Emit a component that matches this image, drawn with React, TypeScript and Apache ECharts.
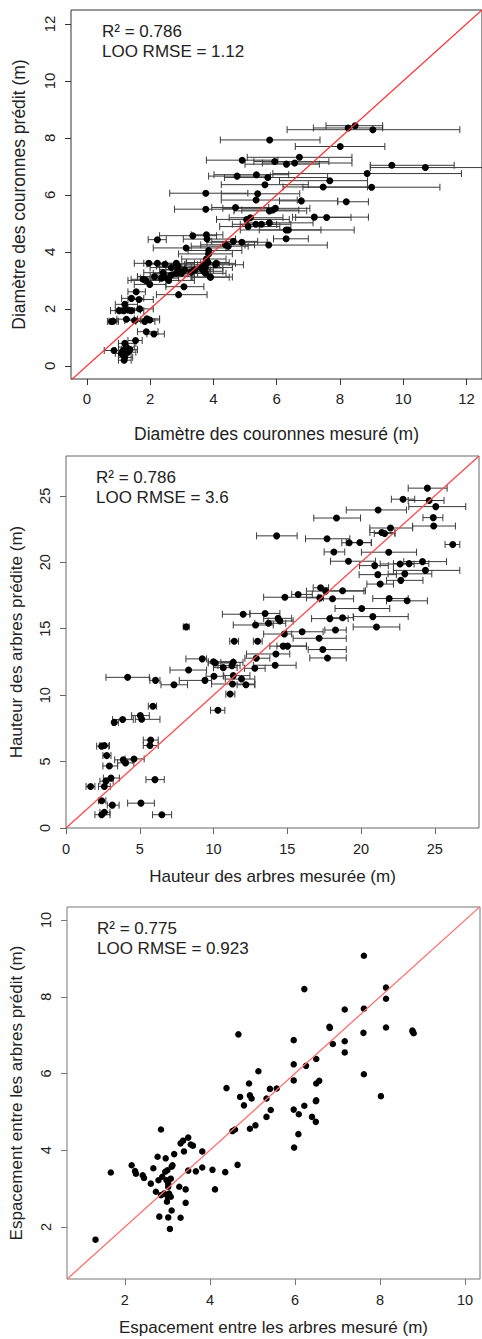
import React, { useEffect, useRef } from "react";
import * as echarts from "echarts";

// Panel 1: crown diameter [measured, predicted, lowMeasured, highMeasured]
const crownPoints: number[][] = [
  [8.48, 8.43, 7.56, 9.35], [8.26, 8.35, 7.16, 9.35], [9.04, 8.29, 6.33, 11.79], [5.78, 7.93, 4.22, 7.37],
  [8.01, 7.7, 6.59, 9.42], [6.72, 7.32, 5.07, 8.38], [4.91, 7.22, 3.78, 6.04], [5.94, 7.17, 5.28, 7.65],
  [6.31, 7.08, 5.0, 7.35], [6.57, 7.12, 5.55, 8.38], [9.64, 7.04, 8.96, 11.61], [10.7, 6.96, 8.96, 12.6],
  [4.75, 6.66, 3.85, 5.8], [5.36, 6.71, 4.02, 6.38], [5.72, 6.61, 4.35, 7.61], [8.86, 6.75, 5.88, 11.84],
  [7.68, 6.5, 6.09, 8.87], [5.63, 6.36, 4.25, 7.0], [7.47, 6.28, 6.2, 8.87], [9.0, 6.27, 6.83, 11.16],
  [3.76, 6.06, 2.62, 5.09], [5.4, 6.04, 4.25, 6.73], [5.35, 5.82, 4.25, 6.65], [6.78, 5.79, 6.09, 7.93],
  [8.2, 5.76, 7.93, 8.9], [3.76, 5.5, 2.77, 4.67], [4.7, 5.56, 3.95, 5.75], [5.77, 5.44, 4.65, 6.95],
  [5.88, 5.47, 4.9, 6.7], [5.96, 5.53, 4.3, 7.05], [7.19, 5.22, 6.5, 8.9], [7.58, 5.21, 6.6, 8.35],
  [5.05, 5.14, 4.1, 6.4], [5.17, 5.2, 4.5, 6.2], [5.1, 4.89, 4.2, 6.1], [5.34, 4.97, 4.6, 6.45],
  [5.52, 4.97, 4.85, 6.0], [5.77, 5.02, 5.0, 7.15], [6.3, 4.77, 4.85, 8.45], [6.37, 4.77, 5.45, 7.4],
  [6.3, 4.46, 5.9, 7.0], [5.75, 4.24, 5.0, 7.6], [3.35, 4.57, 2.3, 4.1], [3.78, 4.6, 3.3, 4.3],
  [3.8, 4.45, 3.05, 4.7], [4.9, 4.34, 3.8, 5.7], [4.63, 4.37, 3.95, 5.4], [4.47, 4.2, 3.3, 5.1],
  [4.38, 4.25, 3.6, 5.3], [2.23, 4.43, 1.94, 2.51], [3.14, 4.14, 2.1, 4.4], [3.85, 4.05, 3.2, 4.9],
  [3.85, 3.93, 2.9, 4.6], [4.09, 3.6, 3.6, 4.7], [3.78, 3.75, 3.0, 4.4], [3.83, 3.63, 3.15, 4.5],
  [3.75, 3.45, 3.0, 4.6], [3.7, 3.55, 3.1, 4.2], [3.9, 3.12, 3.35, 4.6], [4.07, 3.55, 3.5, 4.95],
  [3.7, 3.32, 2.9, 4.3], [2.83, 3.6, 2.2, 3.4], [2.23, 3.6, 1.8, 2.8], [2.47, 3.57, 1.9, 3.1],
  [1.96, 3.6, 1.5, 2.5], [2.67, 3.45, 2.0, 3.3], [2.88, 3.38, 2.3, 3.6], [2.88, 3.5, 2.2, 3.7],
  [2.99, 3.25, 2.4, 3.8], [2.83, 3.25, 2.1, 3.5], [3.09, 3.37, 2.5, 3.9], [2.41, 3.27, 1.8, 3.0],
  [2.46, 3.13, 1.6, 3.3], [2.67, 3.19, 2.0, 3.4], [2.36, 3.08, 1.7, 2.9], [2.59, 3.0, 1.9, 3.4],
  [1.78, 3.04, 1.4, 2.3], [1.86, 3.0, 1.3, 2.6], [1.99, 2.86, 1.5, 2.5], [2.14, 3.13, 1.6, 2.9],
  [3.3, 3.3, 2.7, 3.9], [3.41, 3.37, 2.8, 4.0], [3.62, 3.44, 3.1, 4.3], [3.75, 3.25, 3.2, 4.4],
  [3.91, 3.11, 3.3, 4.5], [2.9, 2.5, 2.2, 3.8], [3.07, 2.78, 2.5, 3.7], [1.56, 2.6, 1.3, 1.85],
  [1.41, 2.37, 1.1, 1.8], [1.65, 2.33, 1.3, 2.1], [1.2, 2.16, 0.9, 1.6], [1.3, 1.96, 1.0, 1.7],
  [1.17, 1.94, 0.9, 1.5], [1.02, 1.94, 0.75, 1.35], [1.41, 1.94, 1.1, 1.8], [1.67, 2.0, 1.3, 2.1],
  [0.78, 1.56, 0.65, 0.95], [0.83, 1.57, 0.7, 1.0], [1.25, 1.64, 0.95, 1.6], [1.51, 1.59, 1.2, 1.85],
  [1.9, 1.65, 1.5, 2.3], [1.99, 1.61, 1.7, 2.3], [1.83, 1.56, 1.55, 2.15], [1.88, 1.2, 1.6, 2.25],
  [2.12, 1.12, 1.9, 2.45], [1.54, 0.89, 1.3, 1.75], [0.86, 0.54, 0.55, 1.3], [1.2, 0.79, 1.0, 1.55],
  [1.25, 0.66, 1.0, 1.5], [1.15, 0.54, 0.9, 1.4], [1.3, 0.48, 1.05, 1.55], [1.2, 0.3, 1.0, 1.45],
  [1.18, 0.2, 1.0, 1.4], [1.09, 0.44, 0.9, 1.4], [1.36, 0.57, 1.1, 1.6],
];

// Panel 2: tree height [measured, predicted, lowMeasured, highMeasured]
const heightPoints: number[][] = [
  [24.5, 25.58, 23.2, 25.84], [22.85, 24.75, 22.06, 23.64], [24.62, 24.65, 23.2, 25.63], [25.07, 24.19, 23.24, 27.1],
  [21.16, 23.94, 19.0, 23.08], [18.34, 23.33, 16.8, 19.97], [24.9, 23.36, 24.2, 25.55], [24.93, 22.73, 23.5, 26.4],
  [22.0, 22.58, 20.6, 23.5], [21.41, 22.24, 20.6, 22.3], [21.6, 22.16, 20.9, 22.3], [14.28, 21.99, 12.92, 15.67],
  [26.22, 21.34, 25.7, 26.7], [17.7, 21.77, 16.24, 19.24], [19.2, 21.47, 18.7, 20.7], [19.92, 21.49, 19.0, 20.7],
  [18.16, 20.78, 17.5, 18.9], [21.88, 20.76, 20.03, 23.76], [19.15, 20.08, 17.93, 20.98], [20.93, 19.75, 19.9, 21.85],
  [22.65, 19.87, 21.3, 23.6], [23.26, 19.9, 22.2, 24.6], [24.17, 20.05, 22.9, 25.8], [24.37, 19.39, 22.2, 26.7],
  [21.14, 19.07, 19.87, 22.4], [22.97, 19.13, 21.84, 24.8], [22.7, 18.64, 21.73, 24.2], [21.3, 18.36, 20.4, 22.2],
  [17.26, 18.08, 16.76, 17.8], [17.6, 17.83, 16.3, 20.2], [18.75, 17.86, 17.66, 20.3], [15.74, 17.58, 15.3, 16.7],
  [14.84, 17.37, 13.4, 17.1], [17.21, 17.32, 16.3, 17.45], [18.07, 17.25, 17.2, 19.5], [21.91, 17.27, 20.8, 23.2],
  [23.13, 17.1, 21.73, 24.5], [20.05, 16.52, 18.24, 21.95], [12.01, 16.09, 10.6, 12.47], [13.5, 16.15, 12.47, 14.5],
  [14.38, 15.78, 13.4, 15.3], [14.5, 15.58, 13.7, 15.4], [17.89, 15.76, 16.65, 19.13], [18.75, 15.83, 18.0, 19.5],
  [20.8, 15.91, 19.47, 23.2], [12.85, 15.28, 11.34, 14.05], [13.73, 15.41, 12.8, 14.9], [21.05, 15.13, 19.47, 22.63],
  [8.15, 15.14, 7.95, 8.35], [18.27, 14.9, 17.55, 19.0], [16.01, 14.77, 14.95, 17.43], [14.8, 14.6, 13.4, 15.3],
  [17.16, 14.28, 15.4, 19.0], [11.41, 14.06, 11.1, 11.7], [12.99, 14.06, 12.7, 13.3], [14.72, 13.69, 13.82, 16.3],
  [15.02, 13.69, 14.3, 16.3], [17.41, 13.43, 16.42, 19.0], [14.23, 13.1, 12.24, 15.17], [17.73, 12.8, 16.53, 19.0],
  [12.9, 12.78, 12.13, 13.82], [9.24, 12.73, 8.13, 9.53], [10.0, 12.52, 9.64, 11.34], [10.12, 12.42, 9.64, 11.34],
  [11.34, 12.47, 10.5, 12.0], [11.25, 12.22, 10.3, 11.8], [10.66, 12.07, 10.0, 11.6], [14.18, 12.25, 12.7, 15.6],
  [12.8, 12.02, 12.1, 13.5], [8.31, 11.89, 7.05, 9.53], [4.18, 11.34, 2.71, 5.65], [6.07, 11.11, 5.69, 6.37],
  [7.32, 10.78, 6.44, 8.24], [9.42, 11.11, 7.68, 9.87], [10.03, 11.42, 9.5, 10.7], [11.34, 11.47, 10.66, 12.47],
  [11.29, 10.84, 9.87, 12.8], [11.9, 11.21, 10.8, 12.8], [12.2, 10.78, 11.6, 12.8], [11.13, 10.08, 10.84, 11.45],
  [10.3, 8.86, 9.8, 10.77], [5.89, 9.17, 5.58, 6.14], [5.04, 8.46, 4.45, 5.65], [5.13, 8.18, 4.7, 6.37],
  [3.84, 8.16, 3.16, 4.56], [3.27, 7.95, 3.16, 3.55], [5.74, 6.62, 5.24, 6.25], [5.69, 6.21, 5.24, 6.25],
  [2.42, 6.16, 2.08, 2.9], [2.6, 6.21, 2.3, 2.95], [2.76, 5.45, 2.5, 3.05], [3.88, 5.13, 3.3, 4.5],
  [4.04, 4.9, 3.5, 4.6], [4.61, 5.2, 4.0, 5.3], [2.94, 4.67, 2.5, 3.5], [3.05, 3.76, 2.53, 3.62],
  [2.71, 3.53, 2.3, 3.2], [2.6, 3.13, 2.2, 3.0], [1.67, 3.13, 1.36, 1.96], [6.03, 3.64, 5.42, 6.66],
  [2.42, 2.05, 2.2, 2.7], [3.14, 1.72, 2.8, 3.6], [5.08, 1.87, 4.18, 5.99], [2.42, 1.0, 1.96, 2.98],
  [2.6, 1.18, 2.3, 2.98], [6.5, 1.0, 5.87, 7.16],
];

// Panel 3: tree spacing [measured, predicted]
const spacingPoints: number[][] = [
  [1.31, 1.67], [1.67, 3.42], [2.16, 3.61], [2.24, 3.46], [2.26, 3.39], [2.42, 3.35], [2.45, 3.28],
  [2.61, 3.13], [2.67, 3.53], [2.77, 3.83], [2.79, 3.22], [2.88, 3.31], [2.96, 3.79], [2.95, 3.44],
  [3.0, 3.48], [2.98, 3.22], [3.02, 3.13], [3.08, 3.26], [3.1, 3.57], [3.12, 3.61], [3.16, 3.9],
  [3.02, 3.05], [3.04, 2.87], [3.08, 2.79], [2.99, 2.66], [3.01, 2.79], [2.92, 2.87], [2.85, 2.83],
  [2.73, 2.92], [2.81, 2.27], [3.02, 2.25], [3.1, 2.43], [3.06, 1.95], [3.31, 2.24], [3.28, 3.05],
  [3.43, 2.98], [3.43, 2.63], [3.39, 3.97], [3.31, 4.18], [3.37, 4.25], [3.49, 4.33], [3.55, 4.15],
  [3.6, 4.12], [3.49, 3.47], [3.67, 3.45], [3.82, 3.97], [3.82, 3.55], [4.06, 3.49], [4.12, 2.98],
  [4.36, 3.43], [4.65, 3.62], [2.85, 4.54], [4.39, 5.62], [4.92, 5.74], [4.71, 5.39], [4.94, 5.43],
  [4.98, 5.35], [4.8, 5.17], [4.53, 4.5], [4.59, 4.54], [4.94, 4.56], [5.07, 4.65], [5.33, 4.87],
  [5.43, 5.05], [5.14, 6.06], [5.41, 5.6], [5.57, 5.61], [5.33, 5.35], [5.97, 5.82], [5.97, 6.24],
  [6.26, 6.2], [6.5, 6.38], [6.5, 5.74], [6.57, 5.81], [6.5, 5.3], [5.97, 5.06], [6.09, 4.94],
  [6.22, 5.16], [6.4, 4.87], [6.49, 5.28], [6.49, 4.74], [6.08, 4.42], [5.98, 4.07], [8.02, 5.41],
  [7.62, 5.98], [4.67, 7.02], [5.97, 6.87], [6.89, 6.77], [7.17, 6.84], [7.17, 6.55], [6.81, 7.22],
  [6.82, 7.19], [7.61, 7.06], [8.14, 7.2], [8.77, 7.09], [8.79, 7.05], [8.76, 7.12], [7.17, 7.67],
  [7.62, 7.69], [8.14, 8.24], [8.14, 7.95], [6.22, 8.2], [7.62, 9.07],
];

const crownTicks = [0, 2, 4, 6, 8, 10, 12];
const heightTicks = [0, 5, 10, 15, 20, 25];
const spacingTicks = [2, 4, 6, 8, 10];

const crownStats = ["R² = 0.786", "LOO RMSE = 1.12"];
const heightStats = ["R² = 0.786", "LOO RMSE = 3.6"];
const spacingStats = ["R² = 0.775", "LOO RMSE = 0.923"];

const FONT = "'Liberation Sans', Arial, Helvetica, sans-serif";

type Panel = {
  grid: { left: number; top: number; width: number; height: number };
  xr: [number, number];
  yr: [number, number];
  ticks: number[];
  xName: string;
  yName: string;
  tickFont: number;
  nameFont: number;
  border: string;
  red: string;
  xNameGap: number;
  yNameGap: number;
  labelMargin: number;
  yLabelMargin: number;
};

const panels: Panel[] = [
  {
    grid: { left: 71, top: 10, width: 412, height: 369 },
    xr: [-0.5, 12.49], yr: [-0.46, 12.49], ticks: crownTicks,
    xName: "Diamètre des couronnes mesuré (m)", yName: "Diamètre des couronnes prédit (m)",
    tickFont: 15, nameFont: 17.5, border: "#333", red: "#ff3030", xNameGap: 46, yNameGap: 43,
    labelMargin: 12, yLabelMargin: 14,
  },
  {
    grid: { left: 65, top: 456, width: 414, height: 372 },
    xr: [0, 28], yr: [0, 28], ticks: heightTicks,
    xName: "Hauteur des arbres mesurée (m)", yName: "Hauteur des arbres prédite (m)",
    tickFont: 14.5, nameFont: 17, border: "#666", red: "#ff4a4a", xNameGap: 40, yNameGap: 41,
    labelMargin: 13, yLabelMargin: 14,
  },
  {
    grid: { left: 66, top: 907, width: 414, height: 372 },
    xr: [0.64, 10.35], yr: [0.645, 10.34], ticks: spacingTicks,
    xName: "Espacement entre les arbres mesuré (m)", yName: "Espacement entre les arbres prédit (m)",
    tickFont: 14.5, nameFont: 17, border: "#777", red: "#ff6e6e", xNameGap: 40, yNameGap: 42,
    labelMargin: 13, yLabelMargin: 14,
  },
];

const statsList = [crownStats, heightStats, spacingStats];
const statsPos = [
  { x: 102, y1: 31, y2: 51 },
  { x: 96, y1: 477, y2: 497 },
  { x: 97, y1: 928, y2: 948 },
];

function errorBarRender(params: any, api: any) {
  const y = api.value(1);
  const lo = api.coord([api.value(2), y]);
  const hi = api.coord([api.value(3), y]);
  const h = 3.5;
  const style = { stroke: "#3a3a3a", lineWidth: 1, fill: "none" };
  return {
    type: "group",
    children: [
      { type: "line", shape: { x1: lo[0], y1: lo[1], x2: hi[0], y2: hi[1] }, style },
      { type: "line", shape: { x1: lo[0], y1: lo[1] - h, x2: lo[0], y2: lo[1] + h }, style },
      { type: "line", shape: { x1: hi[0], y1: hi[1] - h, x2: hi[0], y2: hi[1] + h }, style },
    ],
  };
}

export default function App() {
  const ref = useRef<HTMLDivElement>(null);
  useEffect(() => {
    if (!ref.current) return;
    const chart = echarts.init(ref.current, null, { renderer: "svg" });
    const grids: any[] = [];
    const xAxes: any[] = [];
    const yAxes: any[] = [];
    const series: any[] = [];
    const graphics: any[] = [];
    const dataSets = [crownPoints, heightPoints, spacingPoints];

    panels.forEach((p, i) => {
      grids.push({
        ...p.grid, show: true, borderColor: p.border, borderWidth: 1,
        backgroundColor: "transparent", containLabel: false,
      });
      const common = {
        type: "value", gridIndex: i, nameLocation: "middle",
        splitLine: { show: false },
        axisLine: { show: false, onZero: false },
        axisTick: { show: true, length: 6, customValues: p.ticks, lineStyle: { color: p.border, width: 1 } },
        nameTextStyle: { fontFamily: FONT, fontSize: p.nameFont, color: "#222" },
      };
      xAxes.push({
        ...common, min: p.xr[0], max: p.xr[1], name: p.xName, nameGap: p.xNameGap,
        axisLabel: { customValues: p.ticks, fontFamily: FONT, fontSize: p.tickFont, color: "#222", margin: p.labelMargin },
      });
      yAxes.push({
        ...common, min: p.yr[0], max: p.yr[1], name: p.yName, nameGap: p.yNameGap,
        axisLabel: { customValues: p.ticks, rotate: 90, fontFamily: FONT, fontSize: p.tickFont, color: "#222", margin: p.yLabelMargin },
      });
      const pts = dataSets[i];
      if (pts[0].length > 2) {
        series.push({
          type: "custom", xAxisIndex: i, yAxisIndex: i, renderItem: errorBarRender,
          data: pts, encode: { x: [0, 2, 3], y: 1 }, clip: true, silent: true, z: 2,
        });
      }
      series.push({
        type: "scatter", xAxisIndex: i, yAxisIndex: i, symbol: "circle",
        symbolSize: i === 2 ? 6.5 : 7, itemStyle: { color: "#000", opacity: 1 },
        data: pts.map((d) => [d[0], d[1]]), silent: true, z: 3,
      });
      const lo = Math.min(p.xr[0], p.yr[0]);
      const hi = Math.max(p.xr[1], p.yr[1]);
      series.push({
        type: "line", xAxisIndex: i, yAxisIndex: i, symbol: "none", clip: true, silent: true, z: 4,
        data: [[lo, lo], [hi, hi]], lineStyle: { color: p.red, width: 1.3 },
      });
      const sp = statsPos[i];
      statsList[i].forEach((t, k) => {
        graphics.push({
          type: "text", x: sp.x, y: k === 0 ? sp.y1 : sp.y2,
          style: { text: t, fontFamily: FONT, fontSize: 17, fill: "#222", textVerticalAlign: "middle", textAlign: "left" },
        });
      });
    });

    chart.setOption({
      animation: false,
      backgroundColor: "#fff",
      grid: grids,
      xAxis: xAxes,
      yAxis: yAxes,
      series,
      graphic: graphics,
    });
    return () => chart.dispose();
  }, []);
  return (
    <div
      ref={ref}
      style={{ position: "absolute", left: 0, top: 0, width: 482, height: 1339, background: "#fff" }}
    />
  );
}
